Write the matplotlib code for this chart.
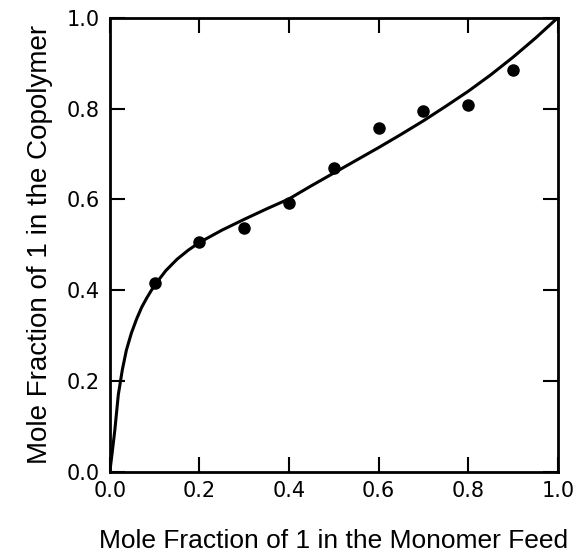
import matplotlib.pyplot as plt

# Data
feed = [0.1, 0.2, 0.3, 0.4, 0.5, 0.6, 0.7, 0.8, 0.9]
copolymer = [0.415, 0.505, 0.537, 0.592, 0.670, 0.757, 0.795, 0.807, 0.885]

# fitted curve, traced points
curve_x = [0.0, 0.005, 0.011, 0.019, 0.028, 0.037, 0.048, 0.060, 0.071, 0.082, 0.093,
           0.104, 0.125, 0.15, 0.175, 0.2, 0.25, 0.3, 0.35, 0.4, 0.45, 0.5,
           0.55, 0.6, 0.65, 0.7, 0.75, 0.8, 0.85, 0.9, 0.95, 1.0]
curve_y = [0.0, 0.04, 0.09, 0.17, 0.225, 0.268, 0.305, 0.337, 0.362, 0.382, 0.400,
           0.416, 0.443, 0.468, 0.488, 0.505, 0.532, 0.556, 0.579, 0.601, 0.630, 0.658,
           0.686, 0.714, 0.743, 0.773, 0.805, 0.838, 0.874, 0.913, 0.955, 1.0]

fig = plt.figure(figsize=(5.78, 5.55), dpi=100)
ax = fig.add_axes([0.190, 0.150, 0.775, 0.818])

ax.plot(curve_x, curve_y, color='black', lw=2.2, solid_joinstyle='round')
ax.plot(feed, copolymer, 'o', color='black', ms=8)

ax.set_xlim(0, 1)
ax.set_ylim(0, 1)
ticks = [0.0, 0.2, 0.4, 0.6, 0.8, 1.0]
ax.set_xticks(ticks)
ax.set_yticks(ticks)
ax.set_xticklabels(['%.1f' % t for t in ticks])
ax.set_yticklabels(['%.1f' % t for t in ticks])
ax.tick_params(direction='in', length=11, width=1.5, top=True, right=True,
               labelsize=15, pad=7)
for s in ax.spines.values():
    s.set_linewidth(2)

ax.set_xlabel('Mole Fraction of 1 in the Monomer Feed', fontsize=19,
              family='Liberation Sans', labelpad=20)
ax.set_ylabel('Mole Fraction of 1 in the Copolymer', fontsize=20,
              family='Liberation Sans', labelpad=10)

fig.savefig('out.png', dpi=100)
